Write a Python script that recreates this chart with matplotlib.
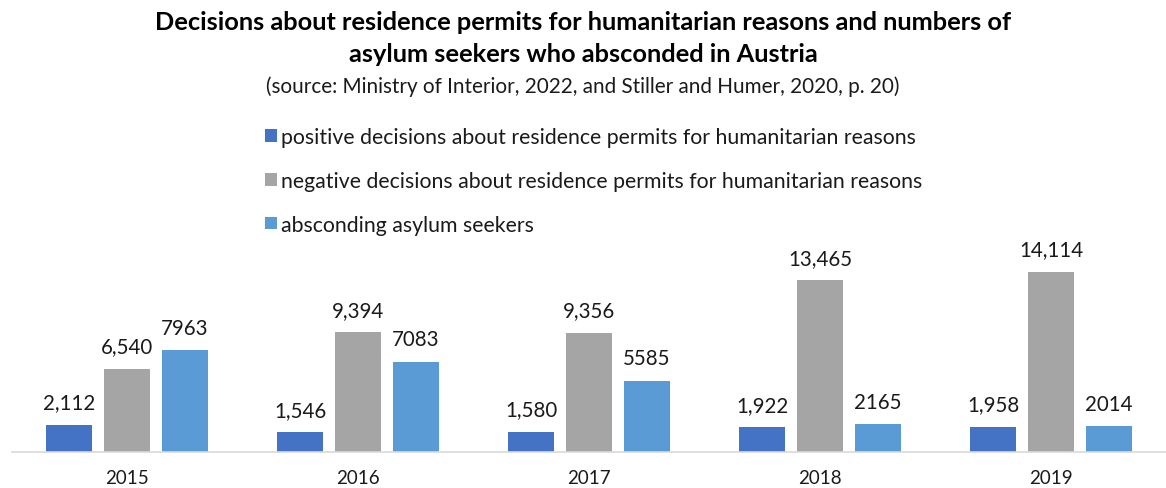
import matplotlib
matplotlib.use("Agg")
import matplotlib.pyplot as plt
from matplotlib.patches import Patch
import numpy as np

plt.rcParams['font.family'] = ['Lato', 'DejaVu Sans']

years = ["2015", "2016", "2017", "2018", "2019"]
positive = [2112, 1546, 1580, 1922, 1958]
negative = [6540, 9394, 9356, 13465, 14114]
absconding = [7963, 7083, 5585, 2165, 2014]

series_names = [
    "positive decisions about residence permits for humanitarian reasons",
    "negative decisions about residence permits for humanitarian reasons",
    "absconding asylum seekers",
]
series_values = [positive, negative, absconding]
series_colors = ["#4472C4", "#A5A5A5", "#5B9BD5"]
label_formats = ["{:,}", "{:,}", "{}"]

fig = plt.figure(figsize=(11.66, 4.89), dpi=100)
ax = fig.add_axes([11.5 / 1166, 36 / 489, 1155 / 1166, 204 / 489])

x = np.arange(len(years))
pitch = 0.25
width = 0.2
for i, (vals, col, fmt) in enumerate(zip(series_values, series_colors, label_formats)):
    pos = x + (i - 1) * pitch
    bars = ax.bar(pos, vals, width=width, color=col, zorder=2)
    for b, v in zip(bars, vals):
        ax.annotate(fmt.format(v), (b.get_x() + b.get_width() / 2, v),
                    xytext=(0, 9), textcoords="offset points",
                    ha="center", va="bottom", fontsize=14.8, color="#1a1a1a")

ax.set_xlim(-0.5, len(years) - 0.5)
ax.set_ylim(0, 16000)
ax.set_xticks(x)
ax.set_xticklabels(years, fontsize=13.5, color="#1a1a1a")
ax.tick_params(axis="x", length=0, pad=12)
ax.set_yticks([])
for s in ["top", "right", "left"]:
    ax.spines[s].set_visible(False)
ax.spines["bottom"].set_color("#D9D9D9")
ax.spines["bottom"].set_linewidth(1.2)
ax.patch.set_alpha(0)

fig.text(0.5, 1 - 22 / 489, "Decisions about residence permits for humanitarian reasons and numbers of",
         ha="center", va="center", fontsize=18.3, fontweight="bold", color="black")
fig.text(0.5, 1 - 54 / 489, "asylum seekers who absconded in Austria",
         ha="center", va="center", fontsize=18.3, fontweight="bold", color="black")
fig.text(0.5, 1 - 87 / 489, "(source: Ministry of Interior, 2022, and Stiller and Humer, 2020, p. 20)",
         ha="center", va="center", fontsize=14.9, color="#1a1a1a")

handles = [Patch(facecolor=c, edgecolor="none") for c in series_colors]
leg = fig.legend(handles, series_names, loc="upper left",
                 bbox_to_anchor=(265 / 1166, 1 - 128 / 489), frameon=False,
                 fontsize=15.3, handlelength=0.55, handleheight=0.55,
                 handletextpad=0.2, labelspacing=1.12, borderaxespad=0,
                 borderpad=0)
for t in leg.get_texts():
    t.set_color("#1a1a1a")

fig.savefig("out.png", dpi=100)
